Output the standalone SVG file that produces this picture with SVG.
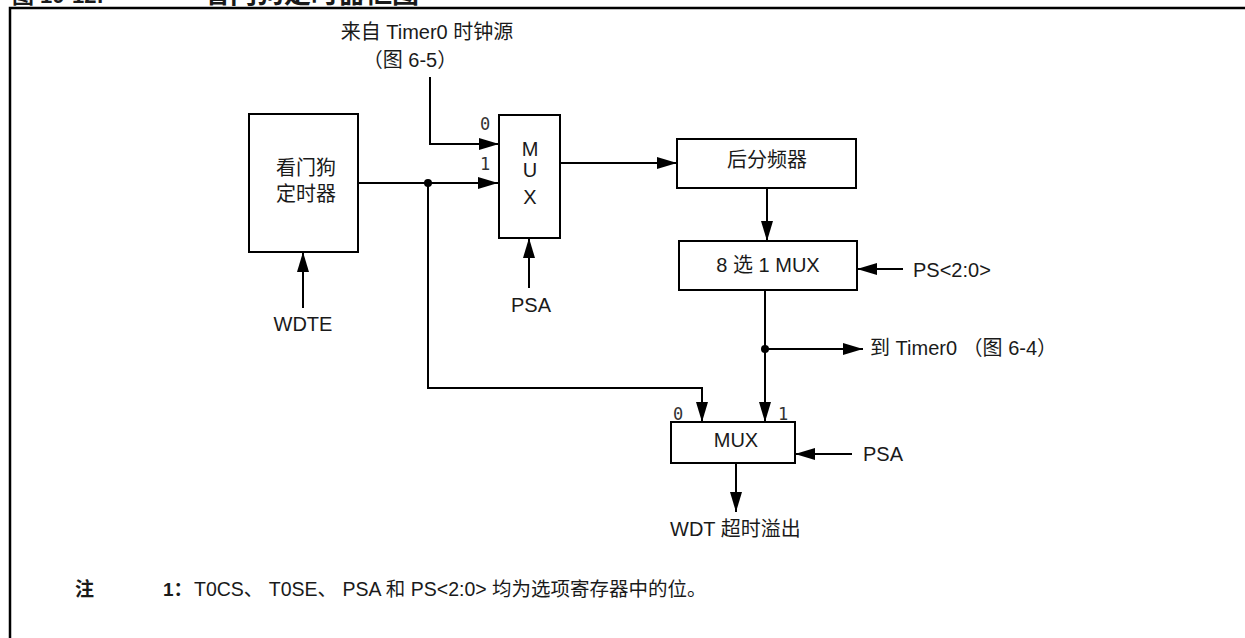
<svg xmlns="http://www.w3.org/2000/svg" width="1245" height="638" viewBox="0 0 1245 638">
<style>
.t{font-family:"Liberation Sans","Noto Sans CJK SC",sans-serif;font-size:20px;fill:#1a1a1a}
.m{font-family:"DejaVu Sans Mono","Liberation Mono",monospace;font-size:17px;fill:#333}
.c{text-anchor:middle}
.box{fill:#fff;stroke:#000;stroke-width:2}
.w{fill:none;stroke:#000;stroke-width:2}
.b{font-weight:bold}
</style>
<defs>
<marker id="ah" markerUnits="userSpaceOnUse" markerWidth="20" markerHeight="12" refX="20" refY="6" orient="auto">
<path d="M0,0 L20,6 L0,12 z" fill="#000"/>
</marker>
</defs>
<rect width="1245" height="638" fill="#fff"/>
<g id="frame">
<path d="M10,638 V8 H1245" fill="none" stroke="#000" stroke-width="2.5"/>
<text class="t b" x="12" y="3" style="font-size:22px">图 10-12:</text>
<text class="t b" x="203" y="3" style="font-size:27px">看门狗定时器框图</text>
</g>
<g id="connectors">
<path class="w" d="M430,77 V144 H499" marker-end="url(#ah)"/>
<path class="w" d="M358,183 H498" marker-end="url(#ah)"/>
<path class="w" d="M428,183 V388 H702 V422" marker-end="url(#ah)"/>
<path class="w" d="M560,163 H677" marker-end="url(#ah)"/>
<path class="w" d="M767,188 V241" marker-end="url(#ah)"/>
<path class="w" d="M903,269 H857" marker-end="url(#ah)"/>
<path class="w" d="M765,290 V422" marker-end="url(#ah)"/>
<path class="w" d="M765,349 H863" marker-end="url(#ah)"/>
<path class="w" d="M852,454 H795" marker-end="url(#ah)"/>
<path class="w" d="M736,463 V512" marker-end="url(#ah)"/>
<path class="w" d="M303,308 V252" marker-end="url(#ah)"/>
<path class="w" d="M529,288 V238" marker-end="url(#ah)"/>
<circle cx="428" cy="183" r="4" fill="#000"/>
<circle cx="765" cy="349" r="4" fill="#000"/>
</g>
<g id="wdt">
<rect class="box" x="249" y="114" width="109" height="138"/>
<text class="t c" x="306" y="175">看门狗</text>
<text class="t c" x="306" y="201">定时器</text>
</g>
<g id="mux1">
<rect class="box" x="499" y="115" width="61" height="123"/>
<text class="t c" x="530" y="156">M</text>
<text class="t c" x="530" y="177">U</text>
<text class="t c" x="530" y="204">X</text>
<text class="m" x="480" y="130">0</text>
<text class="m" x="480" y="170">1</text>
</g>
<g id="postscaler">
<rect class="box" x="677" y="139" width="179" height="49"/>
<text class="t c" x="767" y="167">后分频器</text>
</g>
<g id="mux8">
<rect class="box" x="679" y="241" width="178" height="49"/>
<text class="t c" x="768" y="272">8 选 1 MUX</text>
</g>
<g id="mux2">
<rect class="box" x="671" y="422" width="124" height="41"/>
<text class="t c" x="736" y="447">MUX</text>
<text class="m" x="673" y="420">0</text>
<text class="m" x="778" y="420">1</text>
</g>
<g id="labels">
<text class="t c" x="427" y="39">来自 Timer0 时钟源</text>
<text class="t c" x="410" y="67">（图 6-5）</text>
<text class="t c" x="303" y="331">WDTE</text>
<text class="t c" x="531" y="312">PSA</text>
<text class="t" x="913" y="277">PS&lt;2:0&gt;</text>
<text class="t" x="870" y="355">到 Timer0 （图 6-4）</text>
<text class="t" x="863" y="461">PSA</text>
<text class="t" x="670" y="536">WDT 超时溢出</text>
</g>
<g id="note">
<text class="t b" x="75" y="596" style="font-size:19px">注</text>
<text class="t b" x="163" y="596" style="font-size:19px">1：</text>
<text class="t" x="194" y="596" style="font-size:19.5px">T0CS、 T0SE、 PSA 和 PS&lt;2:0&gt; 均为选项寄存器中的位。</text>
</g>
</svg>
